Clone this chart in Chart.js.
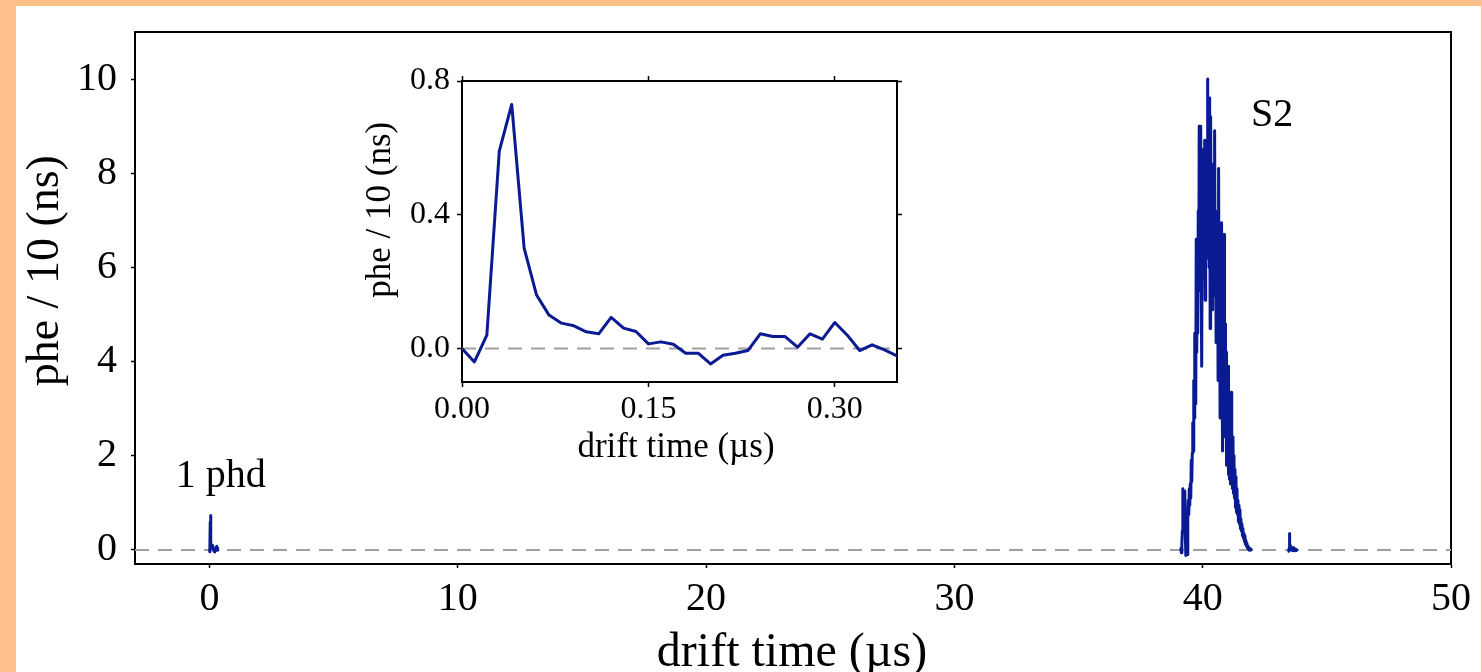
<!DOCTYPE html>
<html>
<head>
<meta charset="utf-8">
<script src="https://cdn.jsdelivr.net/npm/chart.js@4.4.1/dist/chart.umd.min.js"></script>
<style>
  html, body { margin: 0; padding: 0; }
  body { width: 1482px; height: 672px; background: #fdc08a; position: relative; overflow: hidden; }
  #paper { position: absolute; left: 16px; top: 6px; width: 1465px; height: 666px; background: #fff; }
  #mainChart { position: absolute; left: 0; top: 0; }
  #insetChart { position: absolute; left: 340px; top: 60px; }
</style>
</head>
<body>
<div id="paper"></div>
<canvas id="mainChart" width="1482" height="672"></canvas>
<canvas id="insetChart" width="580" height="420"></canvas>
<script>
// ── Data ───────────────────────────────────────────────────────
// single phd pulse (also shown zoomed in the inset), 10 ns samples from t = 0
const PHD_T0 = 0.0;
const PHD_DT = 0.01;
const PHD_V = [
  0.00, -0.04, 0.04, 0.59, 0.73, 0.30, 0.16, 0.10, 0.076, 0.068,
  0.05, 0.044, 0.093, 0.061, 0.051, 0.014, 0.02, 0.013, -0.014, -0.014,
  -0.046, -0.02, -0.014, -0.006, 0.044, 0.036, 0.036, 0.004, 0.044, 0.028,
  0.078, 0.04, -0.006, 0.011, -0.004, -0.022,
];

// S2 pulse, 20 ns samples
const S2_T0 = 39.10;
const S2_DT = 0.02;
const S2_V = [
  0.00, 0.03, -0.06, 0.12, 0.40, 1.30, 0.55, 1.15, 0.80, 1.25,
  0.35, -0.12, 0.30, 0.15, -0.10, 0.65, 1.05, 0.75, 1.30, 0.95,
  1.40, 1.10, 1.90, 1.45, 2.05, 2.70, 2.10, 3.60, 2.80, 4.60,
  3.80, 3.10, 6.60, 4.20, 5.80, 4.60, 7.20, 5.50, 9.00, 6.00,
  8.40, 9.00, 5.60, 3.90, 7.00, 8.50, 5.80, 8.20, 6.40, 8.70,
  5.30, 7.80, 6.20, 8.60, 6.80, 10.00, 7.00, 9.40, 6.00, 9.60,
  4.70, 9.20, 6.60, 8.00, 5.10, 7.60, 6.30, 8.20, 5.40, 8.90,
  6.00, 7.20, 4.40, 7.00, 5.20, 6.60, 3.60, 8.10, 4.80, 6.20,
  2.80, 5.90, 3.40, 6.95, 3.80, 2.10, 5.20, 3.00, 6.70, 2.60,
  4.80, 2.40, 4.20, 1.80, 3.60, 2.20, 3.90, 1.60, 3.30, 1.50,
  2.80, 1.40, 3.35, 1.60, 2.50, 1.30, 2.40, 1.20, 2.00, 1.10,
  1.70, 0.90, 1.55, 0.80, 1.30, 0.75, 1.05, 0.60, 0.95, 0.55,
  0.85, 0.45, 0.65, 0.40, 0.55, 0.30, 0.45, 0.25, 0.35, 0.18,
  0.30, 0.12, 0.20, 0.08, 0.14, 0.04, 0.08, 0.02, 0.05, -0.01,
  0.03, 0.00, 0.02, 0.00,
];

// late single photon after the S2, 10 ns samples
const SPE2_T0 = 43.46;
const SPE2_DT = 0.01;
const SPE2_V = [
  0.00, -0.03, 0.03, 0.28, 0.35, 0.14, 0.08, 0.05, 0.04, 0.03,
  0.05, 0.02, 0.03, 0.00, 0.01, -0.02, 0.00, 0.02, 0.03, 0.01,
  0.05, 0.02, 0.00, 0.01, -0.01, 0.00, 0.02, 0.01, -0.02, 0.00,
  0.01, 0.00, -0.01, 0.00,
];

const BASE_X = [-3, 50];
const BASE_Y = [0, 0];

const MAIN_X_TICKS = [0, 10, 20, 30, 40, 50];
const MAIN_Y_TICKS = [0, 2, 4, 6, 8, 10];
const INSET_X_TICKS = [0, 0.15, 0.30];
const INSET_Y_TICKS = [0, 0.4, 0.8];

// ── Style ──────────────────────────────────────────────────────
const SERIF = '"Liberation Serif", "Times New Roman", "DejaVu Serif", serif';
const TRACE = '#0a1a92';
const DASH = '#a0a0a0';

// ── Helpers ────────────────────────────────────────────────────
function pulse(t0, dt, values) {
  return values.map((v, i) => ({ x: +(t0 + i * dt).toFixed(4), y: v }));
}

function pairs(xs, ys) {
  return xs.map((x, i) => ({ x, y: ys[i] }));
}

function fixedTicks(list) {
  return scale => { scale.ticks = list.map(v => ({ value: v })); };
}

function traceSet(data, width) {
  return {
    data, borderColor: TRACE, borderWidth: width, pointRadius: 0,
    tension: 0, borderJoinStyle: 'round', order: 1,
  };
}

// free text: axis titles (canvas px) and annotations (data units)
const textPlugin = {
  id: 'texts',
  afterDraw(chart, args, opts) {
    const { ctx, scales } = chart;
    (opts.items || []).forEach(t => {
      ctx.save();
      ctx.font = `${t.size}px ${SERIF}`;
      ctx.fillStyle = '#000';
      ctx.textAlign = 'center';
      ctx.textBaseline = 'alphabetic';
      const x = t.px !== undefined ? t.px : scales.x.getPixelForValue(t.x);
      const y = t.py !== undefined ? t.py : scales.y.getPixelForValue(t.y);
      if (t.rotate) {
        ctx.translate(x, y);
        ctx.rotate(-Math.PI / 2);
        ctx.fillText(t.text, 0, 0);
      } else {
        ctx.fillText(t.text, x, y);
      }
      ctx.restore();
    });
  },
};

function axisOpts(o) {
  return {
    type: 'linear',
    position: o.position,
    min: o.min,
    max: o.max,
    afterBuildTicks: fixedTicks(o.ticks),
    afterFit: scale => {
      if (o.width !== undefined) scale.width = o.width;
      if (o.height !== undefined) scale.height = o.height;
      // stop label half-heights from pushing the plot area around
      scale.paddingTop = 0;
      scale.paddingBottom = 0;
      scale.paddingLeft = 0;
      scale.paddingRight = 0;
    },
    grid: {
      drawOnChartArea: false,
      drawTicks: o.tickLength > 0,
      tickLength: o.tickLength,
      tickWidth: 1.5,
      tickColor: '#000',
    },
    border: { display: true, color: '#000', width: 2 },
    ticks: {
      display: !!o.labels,
      color: '#000',
      font: { family: SERIF, size: o.fontSize },
      padding: o.padding,
      maxRotation: 0,
      autoSkip: false,
      callback: o.format,
    },
    title: { display: false },
  };
}

// ── Main chart ─────────────────────────────────────────────────
new Chart(document.getElementById('mainChart'), {
  type: 'line',
  data: {
    datasets: [
      { data: pairs(BASE_X, BASE_Y), borderColor: DASH, borderWidth: 2, borderDash: [14, 9], pointRadius: 0, order: 2 },
      traceSet(pulse(PHD_T0, PHD_DT, PHD_V), 3),
      traceSet(pulse(S2_T0, S2_DT, S2_V), 3),
      traceSet(pulse(SPE2_T0, SPE2_DT, SPE2_V), 3),
    ],
  },
  options: {
    responsive: false,
    animation: false,
    devicePixelRatio: 1,
    layout: { padding: 0 },
    plugins: {
      legend: { display: false },
      tooltip: { enabled: false },
      texts: {
        items: [
          { text: 'drift time (µs)', size: 48, px: 792, py: 666 },
          { text: 'phe / 10 (ns)', size: 46, rotate: true, px: 58, y: 5.93 },
          { text: '1 phd', size: 40, x: 0.45, y: 1.33 },
          { text: 'S2', size: 40, x: 42.8, y: 9.0 },
        ],
      },
    },
    scales: {
      x: axisOpts({ position: 'bottom', min: -3, max: 50, ticks: MAIN_X_TICKS, height: 108, tickLength: 4,
        labels: true, fontSize: 40, padding: 7, format: v => String(v) }),
      y: axisOpts({ position: 'left', min: -0.3, max: 11, ticks: MAIN_Y_TICKS, width: 135, tickLength: 4,
        labels: true, fontSize: 40, padding: 14, format: v => String(v) }),
      x2: axisOpts({ position: 'top', min: -3, max: 50, ticks: MAIN_X_TICKS, height: 32, tickLength: 0 }),
      y2: axisOpts({ position: 'right', min: -0.3, max: 11, ticks: MAIN_Y_TICKS, width: 31, tickLength: 0 }),
    },
  },
  plugins: [textPlugin],
});

// ── Inset ──────────────────────────────────────────────────────
new Chart(document.getElementById('insetChart'), {
  type: 'line',
  data: {
    datasets: [
      { data: pairs([0, 0.35], BASE_Y), borderColor: DASH, borderWidth: 2, borderDash: [14, 9], pointRadius: 0, order: 2 },
      traceSet(pulse(PHD_T0, PHD_DT, PHD_V), 3),
    ],
  },
  options: {
    responsive: false,
    animation: false,
    devicePixelRatio: 1,
    layout: { padding: 0 },
    plugins: {
      legend: { display: false },
      tooltip: { enabled: false },
      texts: {
        items: [
          { text: 'drift time (µs)', size: 35, px: 336, py: 397 },
          { text: 'phe / 10 (ns)', size: 35, rotate: true, px: 50, y: 0.415 },
        ],
      },
    },
    scales: {
      x: axisOpts({ position: 'bottom', min: 0, max: 0.35, ticks: INSET_X_TICKS, height: 98, tickLength: 5,
        labels: true, fontSize: 32, padding: 3, format: v => v.toFixed(2) }),
      y: axisOpts({ position: 'left', min: -0.1, max: 0.8, ticks: INSET_Y_TICKS, width: 122, tickLength: 5,
        labels: true, fontSize: 32, padding: 7, format: v => v.toFixed(1) }),
      x2: axisOpts({ position: 'top', min: 0, max: 0.35, ticks: INSET_X_TICKS, height: 21, tickLength: 5 }),
      y2: axisOpts({ position: 'right', min: -0.1, max: 0.8, ticks: INSET_Y_TICKS, width: 23, tickLength: 5 }),
    },
  },
  plugins: [textPlugin],
});
</script>
</body>
</html>
